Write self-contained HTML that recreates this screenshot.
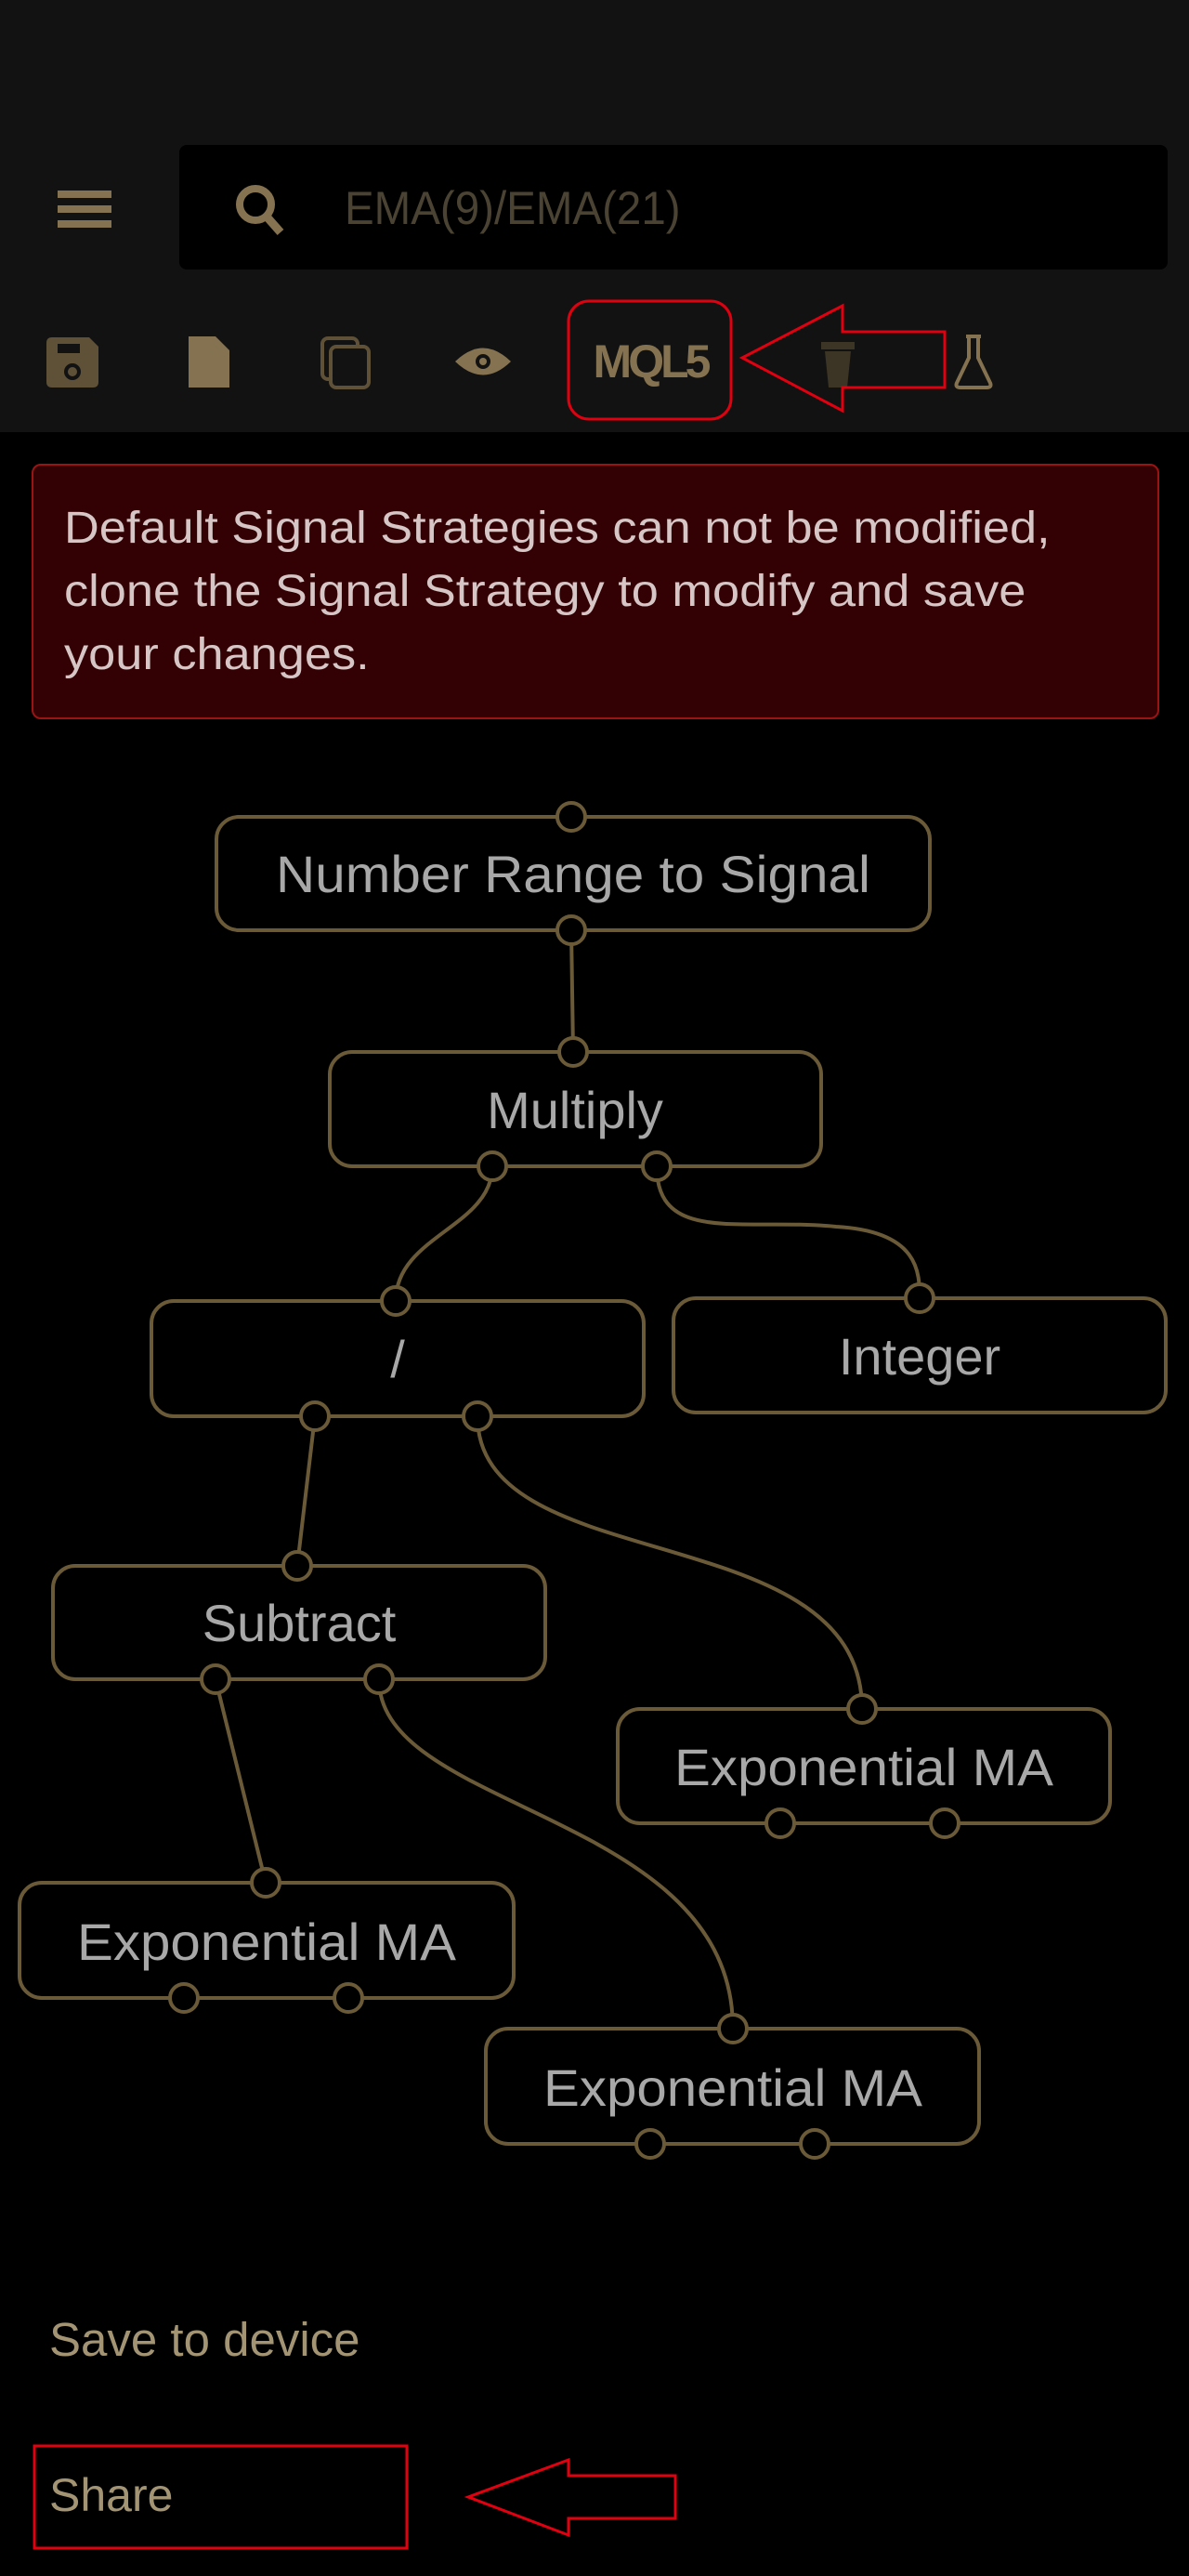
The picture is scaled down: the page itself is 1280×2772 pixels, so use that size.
<!DOCTYPE html>
<html><head><meta charset="utf-8"><style>
html,body{margin:0;padding:0;background:#000;width:1280px;height:2772px;overflow:hidden;font-family:"Liberation Sans",sans-serif}
.top{position:absolute;left:0;top:0;width:1280px;height:465px;background:#121212}
.t{position:absolute;white-space:nowrap}
</style></head><body>
<div class="top"></div>
<div style="position:absolute;left:193px;top:156px;width:1064px;height:134px;background:#000;border-radius:8px"></div>
<div class="t" style="left:371px;top:195px;font-size:50px;color:#4a4232;transform:scaleX(0.95);transform-origin:left">EMA(9)/EMA(21)</div>
<svg width="1280" height="2772" style="position:absolute;left:0;top:0">
 <g fill="#857250">
  <rect x="62" y="205" width="58" height="8"/><rect x="62" y="221" width="58" height="8"/><rect x="62" y="237" width="58" height="8"/>
 </g>
 <circle cx="275" cy="220" r="17" fill="none" stroke="#857250" stroke-width="8"/>
 <line x1="287" y1="233" x2="302" y2="250" stroke="#857250" stroke-width="9"/>
 <path d="M56 363 H96 L106 373 V411 Q106 417 100 417 H56 Q50 417 50 411 V369 Q50 363 56 363 Z" fill="#5e5138"/>
 <rect x="62" y="370" width="24" height="10" fill="#121212"/>
 <circle cx="78" cy="400" r="7" fill="none" stroke="#121212" stroke-width="4"/>
 <path d="M203 362 H232 L247 377 V417 H203 Z" fill="#857250"/>
 <rect x="347" y="364" width="38" height="44" rx="6" fill="none" stroke="#5e5138" stroke-width="4"/>
 <rect x="356" y="373" width="41" height="44" rx="6" fill="#121212" stroke="#5e5138" stroke-width="4"/>
 <path d="M490 389 Q520 360 550 389 Q520 418 490 389 Z" fill="#857250"/>
 <circle cx="520" cy="389" r="8" fill="#121212"/><circle cx="520" cy="389" r="4" fill="#857250"/>
 <text x="700" y="406" text-anchor="middle" font-family="Liberation Sans" font-weight="bold" font-size="50" fill="#857250" letter-spacing="-4">MQL5</text>
 <rect x="884" y="368" width="36" height="8" fill="#3c3424"/>
 <path d="M888 378 H916 L912 417 H892 Z" fill="#3c3424"/>
 <path d="M1040 362 H1056 M1043 362 V385 L1030 412 Q1028 417 1034 417 H1062 Q1068 417 1066 412 L1053 385 V362" fill="none" stroke="#857250" stroke-width="4"/>
 <rect x="612" y="324" width="175" height="127" rx="22" fill="none" stroke="#e00010" stroke-width="3"/>
 <path d="M799 385 L907 329 V357 H1017 V417 H907 V442 Z" fill="none" stroke="#e00010" stroke-width="3"/>
 <g fill="none" stroke="#6b5a38" stroke-width="4">
  <path d="M615 1001 L617 1132"/>
  <path d="M530 1255 C530 1320 426 1330 426 1400"/>
  <path d="M707 1255 C707 1340 800 1310 900 1320 C990 1325 990 1370 990 1397"/>
  <path d="M339 1524 L320 1685"/>
  <path d="M514 1524 C514 1700 928 1630 928 1839"/>
  <path d="M232 1807 L286 2026"/>
  <path d="M408 1807 C408 1950 789 1950 789 2183"/>
 </g>
 <g fill="none" stroke="#6b5a38" stroke-width="4">
  <rect x="233" y="879" width="768" height="122" rx="24"/>
  <rect x="355" y="1132" width="529" height="123" rx="24"/>
  <rect x="163" y="1400" width="530" height="124" rx="24"/>
  <rect x="725" y="1397" width="530" height="123" rx="24"/>
  <rect x="57" y="1685" width="530" height="122" rx="24"/>
  <rect x="665" y="1839" width="530" height="123" rx="24"/>
  <rect x="21" y="2026" width="532" height="124" rx="24"/>
  <rect x="523" y="2183" width="531" height="124" rx="24"/>
 </g>
 <g fill="#000" stroke="#6b5a38" stroke-width="4">
  <circle cx="615" cy="879" r="15"/><circle cx="615" cy="1001" r="15"/>
  <circle cx="617" cy="1132" r="15"/><circle cx="530" cy="1255" r="15"/><circle cx="707" cy="1255" r="15"/>
  <circle cx="426" cy="1400" r="15"/><circle cx="339" cy="1524" r="15"/><circle cx="514" cy="1524" r="15"/>
  <circle cx="990" cy="1397" r="15"/>
  <circle cx="320" cy="1685" r="15"/><circle cx="232" cy="1807" r="15"/><circle cx="408" cy="1807" r="15"/>
  <circle cx="928" cy="1839" r="15"/><circle cx="840" cy="1962" r="15"/><circle cx="1017" cy="1962" r="15"/>
  <circle cx="286" cy="2026" r="15"/><circle cx="198" cy="2150" r="15"/><circle cx="375" cy="2150" r="15"/>
  <circle cx="789" cy="2183" r="15"/><circle cx="700" cy="2307" r="15"/><circle cx="877" cy="2307" r="15"/>
 </g>
 <g font-family="Liberation Sans" font-size="56" fill="#a8a8a8" text-anchor="middle">
  <text x="617" y="960" textLength="640" lengthAdjust="spacingAndGlyphs">Number Range to Signal</text>
  <text x="619" y="1214">Multiply</text>
  <text x="428" y="1482">/</text>
  <text x="990" y="1479">Integer</text>
  <text x="322" y="1766">Subtract</text>
  <text x="930" y="1921" textLength="408" lengthAdjust="spacingAndGlyphs">Exponential MA</text>
  <text x="287" y="2109" textLength="408" lengthAdjust="spacingAndGlyphs">Exponential MA</text>
  <text x="789" y="2266" textLength="408" lengthAdjust="spacingAndGlyphs">Exponential MA</text>
 </g>
 <rect x="37" y="2632" width="401" height="110" fill="none" stroke="#e00010" stroke-width="3"/>
 <path d="M504 2687 L612 2647 V2664 H727 V2710 H612 V2728 Z" fill="none" stroke="#e00010" stroke-width="3"/>
</svg>
<div style="position:absolute;left:34px;top:499px;width:1210px;height:271px;background:#330004;border:2px solid #9a1414;border-radius:10px"></div>
<div class="t" style="left:69px;top:535px;font-size:48px;line-height:68px;color:#d6c6c6;white-space:nowrap;transform:scaleX(1.09);transform-origin:left">Default Signal Strategies can not be modified,<br>clone the Signal Strategy to modify and save<br>your changes.</div>
<div class="t" style="left:53px;top:2488px;font-size:51px;color:#a39474">Save to device</div>
<div class="t" style="left:53px;top:2656px;font-size:50px;color:#a39474">Share</div>
</body></html>
